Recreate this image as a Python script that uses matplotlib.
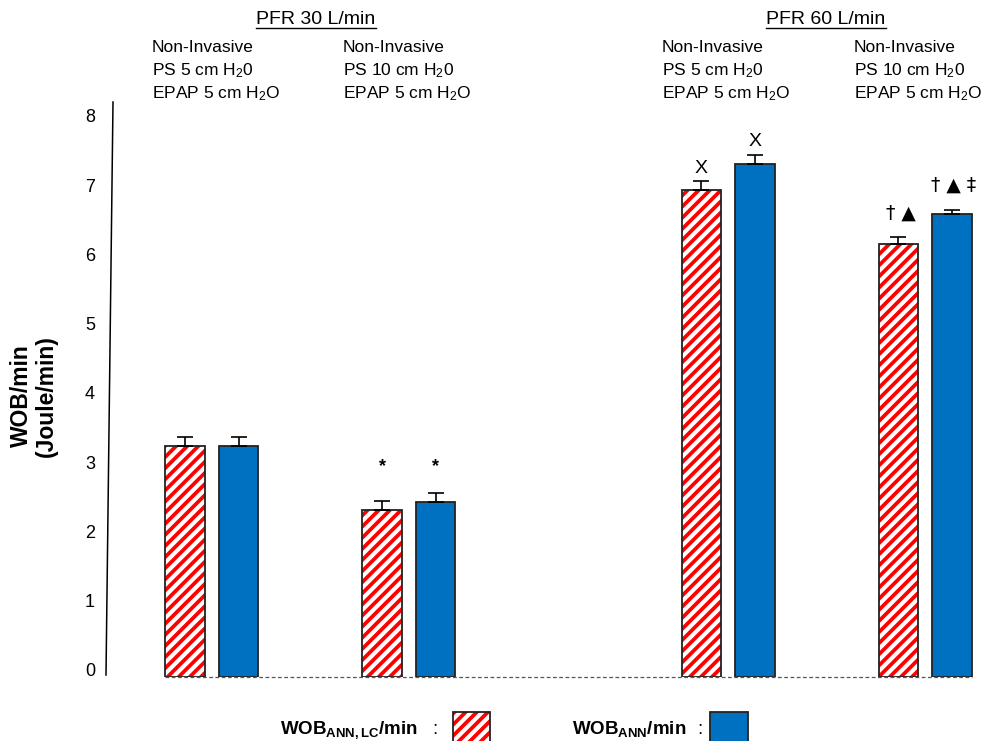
import matplotlib
matplotlib.use("Agg")
import matplotlib.pyplot as plt
from matplotlib.lines import Line2D
from matplotlib.patches import Rectangle
from matplotlib.transforms import ScaledTranslation
import numpy as np

plt.rcParams["font.family"] = ["Liberation Sans", "DejaVu Sans"]
plt.rcParams["mathtext.fontset"] = "custom"
plt.rcParams["mathtext.rm"] = "Liberation Sans"
plt.rcParams["mathtext.it"] = "Liberation Sans:italic"
plt.rcParams["mathtext.bf"] = "Liberation Sans:bold"
plt.rcParams["hatch.linewidth"] = 2.7

# ---- data -------------------------------------------------------------
flow_titles = ["PFR 30 L/min", "PFR 60 L/min"]
condition_labels = [
    "Non-Invasive\nPS 5 cm H$_2$0\nEPAP 5 cm H$_2$O",
    "Non-Invasive\nPS 10 cm H$_2$0\nEPAP 5 cm H$_2$O",
    "Non-Invasive\nPS 5 cm H$_2$0\nEPAP 5 cm H$_2$O",
    "Non-Invasive\nPS 10 cm H$_2$0\nEPAP 5 cm H$_2$O",
]
wob_ann_lc = [3.34, 2.41, 7.03, 6.25]
wob_ann_lc_err = [0.13, 0.13, 0.13, 0.10]
wob_ann = [3.34, 2.52, 7.41, 6.69]
wob_ann_err = [0.13, 0.14, 0.135, 0.06]
marks_lc = ["", "*", "X", "† ▲"]
marks_ann = ["", "*", "X", "† ▲ ‡"]
y_ticks = [0, 1, 2, 3, 4, 5, 6, 7, 8]

RED = "#FF0000"
BLUE = "#0070C0"
HATCH = "///"

W, H = 985, 741
fig = plt.figure(figsize=(W / 100, H / 100), dpi=100)


def fx(x):
    return x / W


def fy(y):
    return 1 - y / H


# axes spans pixel rows 100..677 and columns 106..985
ax = fig.add_axes([fx(106), fy(677), fx(985) - fx(106), fy(100) - fy(677)])
ax.set_xlim(-0.5365, 3.923)
ax.set_ylim(0, 577 / 69.25)
for s in ax.spines.values():
    s.set_visible(False)
ax.set_xticks([])
ax.set_yticks(y_ticks)
ax.tick_params(axis="y", length=0, pad=8, labelsize=13)
off = ScaledTranslation(0, 7 / 100, fig.dpi_scale_trans)
for lab in ax.get_yticklabels():
    lab.set_transform(lab.get_transform() + off)

group_pos = np.array([0.0, 1.0, 2.62, 3.62])
dx = 0.136
bw = 0.2
x_lc = group_pos - dx
x_ann = group_pos + dx

# hatched bars: red stripes, then a black outline on top
ax.bar(x_lc, wob_ann_lc, width=bw, color="white", edgecolor=RED,
       hatch=HATCH, linewidth=0, zorder=2)
ax.bar(x_lc, wob_ann_lc, width=bw, fill=False, edgecolor="#222222",
       linewidth=1.3, zorder=3)
ax.bar(x_ann, wob_ann, width=bw, color=BLUE, edgecolor="#222222",
       linewidth=1.3, zorder=3)

zeros = np.zeros(len(group_pos))
ax.errorbar(x_lc, wob_ann_lc, yerr=[zeros, wob_ann_lc_err], fmt="none",
            ecolor="black", elinewidth=1.2, capsize=6, capthick=1.2, zorder=4)
ax.errorbar(x_ann, wob_ann, yerr=[zeros, wob_ann_err], fmt="none",
            ecolor="black", elinewidth=1.2, capsize=6, capthick=1.2, zorder=4)

# dashed baseline under the bars
ax.plot([x_lc[0] - bw / 2, x_ann[-1] + bw / 2], [0, 0], ls=(0, (3, 2)),
        color="#555555", lw=0.9, zorder=5, clip_on=False)

# significance marks
for x, v, e, m in list(zip(x_lc, wob_ann_lc, wob_ann_lc_err, marks_lc)) + \
        list(zip(x_ann, wob_ann, wob_ann_err, marks_ann)):
    if not m:
        continue
    if m == "*":
        ax.text(x, 2.97, m, ha="center", va="baseline", fontsize=13,
                fontweight="bold")
    elif m == "X":
        ax.text(x, v + e + 0.12, m, ha="center", va="baseline", fontsize=14)
    else:
        ax.text(x + 0.01, v + e + 0.27, m, ha="center", va="baseline",
                fontsize=13.5, family=["DejaVu Sans"])

# slanted value axis line
fig.add_artist(Line2D([fx(113), fx(106)], [fy(102), fy(675)],
                      transform=fig.transFigure, color="black", lw=1.1))

# y label
fig.text(fx(34), fy(396), "WOB/min\n(Joule/min)", rotation=90, ha="center",
         va="center", fontsize=16.5, fontweight="bold", linespacing=1.15)

# column headers
col_left = [152, 343, 662, 854]
for x, txt in zip(col_left, condition_labels):
    for i, line in enumerate(txt.split("\n")):
        fig.text(fx(x), fy(52 + 23 * i), line, ha="left", va="baseline",
                 fontsize=12.5)

title_centers = [316, 826]
fig.canvas.draw()
renderer = fig.canvas.get_renderer()
for xc, t in zip(title_centers, flow_titles):
    tt = fig.text(fx(xc), fy(24), t, ha="center", va="baseline", fontsize=14)
    bb = tt.get_window_extent(renderer)
    fig.add_artist(Line2D([bb.x0 / W, bb.x1 / W], [fy(27.5), fy(27.5)],
                          transform=fig.transFigure, color="black", lw=1.0))

# legend row along the bottom
fig.text(fx(280), fy(734), r"$\mathbf{WOB_{ANN,LC}}$/min", ha="left",
         va="baseline", fontsize=13.5, fontweight="bold")
fig.text(fx(432), fy(734), ":", ha="left", va="baseline", fontsize=13.5)
fig.add_artist(Rectangle((fx(453), fy(745)), fx(490) - fx(453), fy(712) - fy(745),
                         transform=fig.transFigure, facecolor="white",
                         edgecolor=RED, hatch=HATCH, linewidth=0))
fig.add_artist(Rectangle((fx(453), fy(745)), fx(490) - fx(453), fy(712) - fy(745),
                         transform=fig.transFigure, fill=False,
                         edgecolor="#222222", linewidth=1.3))
fig.text(fx(572), fy(734), r"$\mathbf{WOB_{ANN}}$/min", ha="left",
         va="baseline", fontsize=13.5, fontweight="bold")
fig.text(fx(697), fy(734), ":", ha="left", va="baseline", fontsize=13.5)
fig.add_artist(Rectangle((fx(710), fy(745)), fx(748) - fx(710), fy(712) - fy(745),
                         transform=fig.transFigure, facecolor=BLUE,
                         edgecolor="#222222", linewidth=1.3))

fig.savefig("out.png", dpi=100)
